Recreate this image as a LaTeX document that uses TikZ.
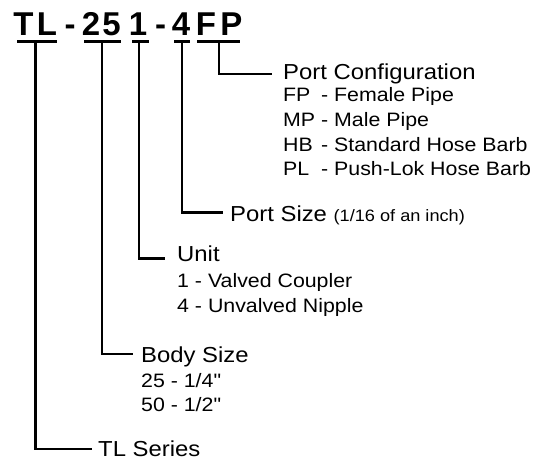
\documentclass[tikz,border=0pt]{standalone}
\usepackage{fontspec}
\usepackage{calc}
\setmainfont[FakeStretch=1.1,Ligatures=TeXOff]{Liberation Sans}
\newfontfamily\titlefont{Liberation Sans}
\newcommand\cw[1]{\makebox[\widthof{MP}][l]{#1}}
\begin{document}
\begin{tikzpicture}[x=1pt,y=-1pt,
  big/.style={font=\fontsize{21.7}{26}\selectfont, anchor=base west, inner sep=0pt},
  sub/.style={font=\fontsize{19.4}{23}\selectfont, anchor=base west, inner sep=0pt},
  ttl/.style={font=\titlefont\bfseries\fontsize{33}{38}\selectfont, anchor=base, inner sep=0pt},
  conn/.style={line width=2.5pt},
  uline/.style={line width=3pt}]
\useasboundingbox (0,0) rectangle (536,460);
% title characters
\node[ttl] (t1) at (23.5,36) {T};
\node[ttl] (t2) at (47,36) {L};
\node[ttl] (t3) at (70,36) {-};
\node[ttl] (t4) at (91,36) {2};
\node[ttl] (t5) at (111.5,36) {5};
\node[ttl] (t6) at (138,36) {1};
\node[ttl] (t7) at (160.5,36) {-};
\node[ttl] (t8) at (181,36) {4};
\node[ttl] (t9) at (206,36) {F};
\node[ttl] (t10) at (231.5,36) {P};
% underlines
\coordinate (uTLa) at (17,41.5);  \coordinate (uTLb) at (57,41.5);
\coordinate (uBSa) at (84,41.5);  \coordinate (uBSb) at (121,41.5);
\coordinate (uUa) at (132,41.5);  \coordinate (uUb) at (149,41.5);
\coordinate (uPSa) at (174,41.5); \coordinate (uPSb) at (190,41.5);
\coordinate (uPCa) at (197,41.5); \coordinate (uPCb) at (240,41.5);
\draw[uline] (uTLa) -- (uTLb);
\draw[uline] (uBSa) -- (uBSb);
\draw[uline] (uUa) -- (uUb);
\draw[uline] (uPSa) -- (uPSb);
\draw[uline] (uPCa) -- (uPCb);
% connector start and end points
\coordinate (sTL) at (35.5,41.5); \coordinate (eTL) at (92,449);
\coordinate (sBS) at (102,41.5);  \coordinate (eBS) at (133,354);
\coordinate (sU) at (139,41.5);   \coordinate (eU) at (165,258.5);
\coordinate (sPS) at (182,41.5);  \coordinate (ePS) at (223,212.5);
\coordinate (sPC) at (219,41.5);  \coordinate (ePC) at (272,74);
\draw[conn] (sTL) |- (eTL);
\draw[conn] (sBS) |- (eBS);
\draw[conn] (sU) |- (eU);
\draw[conn] (sPS) |- (ePS);
\draw[conn] (sPC) |- (ePC);
% labels
\node[big] (pc) at (283,80) {Port Configuration};
\node[sub] (pc1) at (283,102) {\cw{FP} - Female Pipe};
\node[sub] (pc2) at (283,126.5) {\cw{MP} - Male Pipe};
\node[sub] (pc3) at (283,151) {\cw{HB} - Standard Hose Barb};
\node[sub] (pc4) at (283,175.5) {\cw{PL} - Push-Lok Hose Barb};
\node[big] (ps) at (230,221) {Port Size {\fontsize{16.5}{20}\selectfont(1/16 of an inch)}};
\node[big] (un) at (177,261) {Unit};
\node[sub] (un1) at (177,287) {1 - Valved Coupler};
\node[sub] (un2) at (177,312) {4 - Unvalved Nipple};
\node[big] (bs) at (141,362) {Body Size};
\node[sub] (bs1) at (141,387) {25 - 1/4"};
\node[sub] (bs2) at (141,411) {50 - 1/2"};
\node[big] (tl) at (98,456) {TL Series};
\end{tikzpicture}
\end{document}
